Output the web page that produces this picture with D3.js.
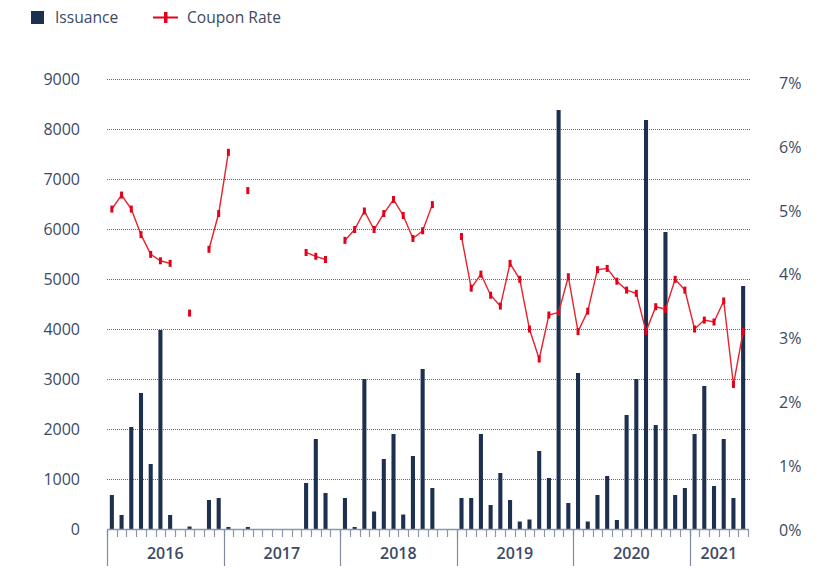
<!DOCTYPE html>
<html>
<head>
<meta charset="utf-8">
<script src="https://cdn.jsdelivr.net/npm/d3@7"></script>
<style>
  body { margin: 0; background: #fff; }
  text { font-family: "Open Sans", sans-serif; fill: #3c4a64; }
</style>
</head>
<body>
<svg id="chart" width="837" height="570"></svg>
<script>
var years = ['2016', '2017', '2018', '2019', '2020', '2021']
var monthsPerYear = [12, 12, 12, 12, 12, 6]

// monthly issuance, Jan 2016 .. Jun 2021
var issuance = [
  680, 280, 2040, 2720, 1300, 3980, 280, 0, 50, 0, 580, 620,
  40, 0, 40, 0, 0, 0, 0, 0, 920, 1800, 720, 0,
  620, 40, 3000, 350, 1400, 1900, 290, 1460, 3200, 820, 0, 0,
  620, 620, 1900, 480, 1120, 580, 150, 190, 1560, 1020, 8380, 520,
  3120, 150, 680, 1060, 180, 2280, 3000, 8180, 2080, 5940, 680, 820,
  1900, 2860, 860, 1800, 620, 4860
]

// coupon rate in %, null where no issue that month
var coupon = [
  5.03, 5.25, 5.03, 4.63, 4.32, 4.22, 4.18, null, 3.40, null, 4.40, 4.96,
  5.92, null, 5.32, null, null, null, null, null, 4.35, 4.29, 4.24, null,
  4.54, 4.71, 5.00, 4.71, 4.96, 5.18, 4.93, 4.57, 4.69, 5.10, null, null,
  4.60, 3.79, 4.01, 3.68, 3.51, 4.18, 3.93, 3.15, 2.68, 3.37, 3.41, 3.97,
  3.11, 3.43, 4.08, 4.10, 3.90, 3.76, 3.71, 3.11, 3.50, 3.46, 3.93, 3.76,
  3.15, 3.29, 3.26, 3.59, 2.28, 3.11
]

var leftTicks = [0, 1000, 2000, 3000, 4000, 5000, 6000, 7000, 8000, 9000]
var rightTicks = [0, 1, 2, 3, 4, 5, 6, 7]

var navy = '#1d3050', red = '#e2001a'

var months = []
years.forEach(function(y, i){
  for (var m = 0; m < monthsPerYear[i]; m++) months.push(y + '-' + (m + 1))
})
var data = months.map(function(m, i){ return {month: m, iss: issuance[i], rate: coupon[i]} })

var svg = d3.select('#chart')

var x = d3.scaleBand().domain(months).range([107, 748]).paddingInner(0.58).paddingOuter(0.29)
var xt = d3.scaleBand().domain(months).range([107, 748])
var y = d3.scaleLinear().domain([0, 9000]).range([529, 79])
var y2 = d3.scaleLinear().domain([0, 7]).range([530, 83.4])

// gridlines
svg.append('g').selectAll('line')
  .data(leftTicks.slice(1))
  .enter().append('line')
  .attr('x1', 107).attr('x2', 750)
  .attr('y1', function(d){ return y(d) + 0.5 }).attr('y2', function(d){ return y(d) + 0.5 })
  .attr('stroke', '#5d6b84').attr('stroke-width', 1).attr('stroke-dasharray', '1,1')

// left labels
svg.append('g').selectAll('text')
  .data(leftTicks)
  .enter().append('text')
  .attr('x', 80).attr('y', function(d){ return y(d) })
  .attr('dy', '0.35em').attr('text-anchor', 'end')
  .style('font-size', '16px')
  .text(function(d){ return d })

// right labels
svg.append('g').selectAll('text')
  .data(rightTicks)
  .enter().append('text')
  .attr('x', 779).attr('y', function(d){ return y2(d) })
  .attr('dy', '0.35em')
  .style('font-size', '16px')
  .text(function(d){ return d + '%' })

// bars
svg.append('g').selectAll('rect')
  .data(data.filter(function(d){ return d.iss > 0 }))
  .enter().append('rect')
  .attr('x', function(d){ return x(d.month) })
  .attr('width', x.bandwidth())
  .attr('y', function(d){ return y(d.iss) })
  .attr('height', function(d){ return y(0) - y(d.iss) })
  .attr('fill', navy)

// x axis
var axis = svg.append('g')
axis.append('line')
  .attr('x1', 107).attr('x2', 749).attr('y1', 529.5).attr('y2', 529.5)
  .attr('stroke', '#8b96a8').attr('stroke-width', 1.5)
var tickXs = months.map(function(m){ return xt(m) }).concat([748])
axis.selectAll('line.tick')
  .data(tickXs)
  .enter().append('line').attr('class', 'tick')
  .attr('x1', function(d){ return Math.round(d) + 0.5 }).attr('x2', function(d){ return Math.round(d) + 0.5 })
  .attr('y1', 530).attr('y2', 537)
  .attr('stroke', '#8b96a8').attr('stroke-width', 1.2)

var yearStart = []
var idx = 0
years.forEach(function(yr, i){ yearStart.push({year: yr, a: months[idx], b: months[idx + monthsPerYear[i] - 1]}); idx += monthsPerYear[i] })

axis.selectAll('line.year')
  .data(yearStart.map(function(d){ return xt(d.a) }))
  .enter().append('line').attr('class', 'year')
  .attr('x1', function(d){ return Math.round(d) + 0.5 }).attr('x2', function(d){ return Math.round(d) + 0.5 })
  .attr('y1', 530).attr('y2', 566)
  .attr('stroke', '#7d8aa0').attr('stroke-width', 1.2)

axis.selectAll('text.year')
  .data(yearStart)
  .enter().append('text').attr('class', 'year')
  .attr('x', function(d){ return (xt(d.a) + xt(d.b) + xt.bandwidth()) / 2 })
  .attr('y', 553).attr('dy', '0.35em')
  .attr('text-anchor', 'middle')
  .style('font-size', '16px').style('font-weight', 600)
  .text(function(d){ return d.year })

// coupon line
var cx = function(d){ return x(d.month) + x.bandwidth() / 2 }
var line = d3.line()
  .defined(function(d){ return d.rate != null })
  .x(cx).y(function(d){ return y2(d.rate) })

svg.append('path')
  .datum(data)
  .attr('d', line)
  .attr('fill', 'none')
  .attr('stroke', '#e8212b')
  .attr('stroke-width', 1.4)

svg.append('g').selectAll('rect')
  .data(data.filter(function(d){ return d.rate != null }))
  .enter().append('rect')
  .attr('x', function(d){ return cx(d) - 1.5 })
  .attr('y', function(d){ return y2(d.rate) - 3.5 })
  .attr('width', 3).attr('height', 7)
  .attr('fill', red)

// legend
var lg = svg.append('g')
lg.append('rect').attr('x', 31).attr('y', 11).attr('width', 13).attr('height', 13).attr('fill', navy)
lg.append('text').attr('x', 55).attr('y', 18).attr('dy', '0.35em').style('font-size', '15.6px').text('Issuance')
lg.append('line').attr('x1', 153).attr('x2', 178).attr('y1', 17.5).attr('y2', 17.5)
  .attr('stroke', red).attr('stroke-width', 2)
lg.append('rect').attr('x', 164).attr('y', 12).attr('width', 3.5).attr('height', 11).attr('fill', red)
lg.append('text').attr('x', 187).attr('y', 18).attr('dy', '0.35em').style('font-size', '15.6px').text('Coupon Rate')
</script>
</body>
</html>
